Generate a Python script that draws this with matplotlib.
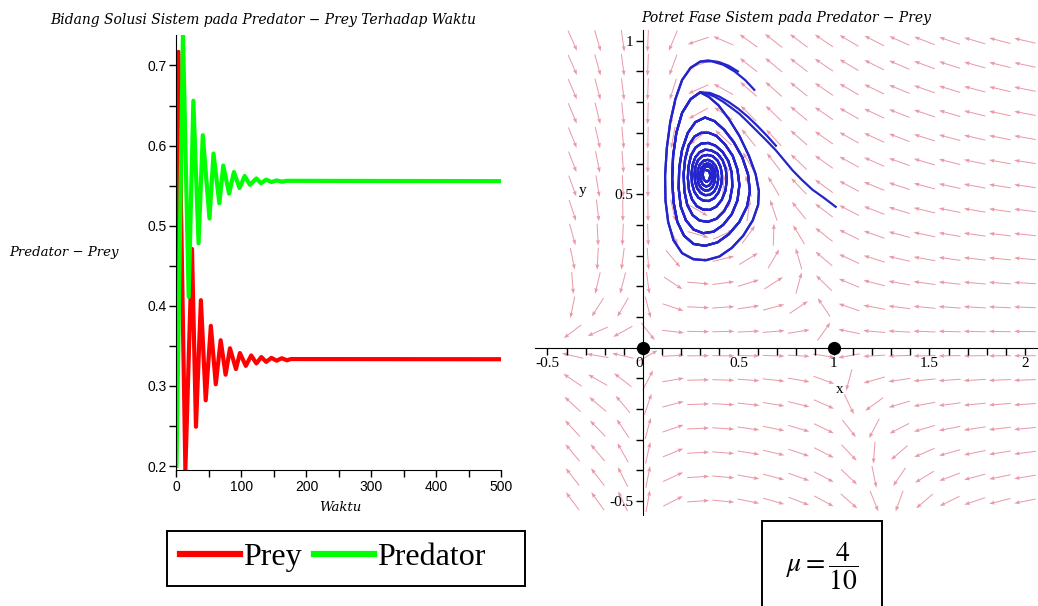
import numpy as np
import matplotlib
matplotlib.use("Agg")
import matplotlib.pyplot as plt
from matplotlib.patches import Rectangle
from matplotlib.ticker import MultipleLocator

# --- time series (left), extrema ---
prey_t = [0, 3.0, 13.7, 23.9, 30.0, 37.6, 45.0, 52.9, 60.5, 68.0, 75.6, 82.3, 91.5,
          97.6, 106.7, 115.0, 123.0, 130.6, 138.0, 146.0, 154.0, 162.0, 170.0, 176.0, 500]
prey_v = [0.40, 0.717, 0.195, 0.471, 0.249, 0.407, 0.282, 0.375, 0.302, 0.357, 0.314,
          0.347, 0.321, 0.341, 0.325, 0.338, 0.328, 0.336, 0.330, 0.335, 0.3315, 0.3345,
          0.332, 0.3335, 0.3333]
pred_t = [0, 10.0, 18.8, 26.0, 34.0, 40.5, 50.8, 57.0, 66.0, 72.0, 81.0, 88.4, 97.0,
          105.0, 113.0, 123.0, 130.0, 138.0, 146.0, 154.0, 162.0, 170.0, 500]
pred_v = [0.20, 0.74, 0.411, 0.656, 0.478, 0.613, 0.509, 0.590, 0.528, 0.575, 0.540,
          0.567, 0.547, 0.562, 0.551, 0.559, 0.553, 0.5575, 0.5545, 0.5565, 0.555, 0.556,
          0.5556]

# --- phase portrait (right) ---
mu = 0.4          # death rate of predator
half_sat = 0.5    # prey half saturation
eq_x = [0, 1]
eq_y = [0, 0]

start_a = [(0.583, 0.840), (0.535, 0.872), (0.48, 0.900), (0.42, 0.922), (0.36, 0.933)]
start_b = [(0.497, 0.900), (0.45, 0.918), (0.40, 0.930), (0.34, 0.936)]
start_c = [(1.009, 0.459), (0.95, 0.487), (0.887, 0.515), (0.83, 0.548), (0.783, 0.578),
           (0.74, 0.61), (0.696, 0.643), (0.645, 0.676), (0.592, 0.709), (0.545, 0.738),
           (0.505, 0.762), (0.46, 0.783), (0.418, 0.802), (0.375, 0.818), (0.335, 0.828)]
start_d = [(0.696, 0.658), (0.65, 0.69), (0.60, 0.722), (0.55, 0.752), (0.50, 0.778),
           (0.45, 0.80), (0.40, 0.818), (0.35, 0.83)]

loop1 = [(0.30, 0.932), (0.25, 0.912), (0.205, 0.872), (0.17, 0.81), (0.143, 0.735),
         (0.125, 0.65), (0.116, 0.56), (0.118, 0.48), (0.132, 0.41), (0.16, 0.35),
         (0.205, 0.308), (0.265, 0.288), (0.33, 0.285), (0.40, 0.297), (0.465, 0.325),
         (0.525, 0.365), (0.575, 0.415), (0.603, 0.465), (0.607, 0.51), (0.59, 0.565),
         (0.555, 0.625), (0.505, 0.69), (0.45, 0.745), (0.395, 0.79), (0.345, 0.817)]
loop2 = [(0.30, 0.832), (0.25, 0.81), (0.205, 0.765), (0.175, 0.70), (0.158, 0.625),
         (0.153, 0.55), (0.16, 0.475), (0.18, 0.41), (0.215, 0.365), (0.265, 0.338),
         (0.325, 0.332), (0.39, 0.343), (0.45, 0.37), (0.505, 0.41), (0.545, 0.46),
         (0.56, 0.51), (0.55, 0.565), (0.52, 0.62), (0.475, 0.67), (0.425, 0.71),
         (0.375, 0.738)]
loop3 = [(0.325, 0.75), (0.275, 0.735), (0.235, 0.70), (0.205, 0.645), (0.19, 0.585),
         (0.187, 0.52), (0.198, 0.46), (0.225, 0.415), (0.265, 0.385), (0.315, 0.373),
         (0.37, 0.378), (0.42, 0.40), (0.465, 0.435), (0.495, 0.48), (0.505, 0.53),
         (0.495, 0.58), (0.47, 0.625), (0.43, 0.662), (0.385, 0.69), (0.345, 0.70)]
loop4 = [(0.305, 0.70), (0.27, 0.688), (0.24, 0.66), (0.221, 0.615), (0.213, 0.565),
         (0.217, 0.51), (0.232, 0.465), (0.26, 0.432), (0.297, 0.414), (0.34, 0.41),
         (0.385, 0.42), (0.425, 0.445), (0.455, 0.48), (0.468, 0.525), (0.465, 0.57),
         (0.447, 0.608), (0.417, 0.638), (0.38, 0.658), (0.342, 0.667)]
loop5 = [(0.305, 0.665), (0.275, 0.652), (0.252, 0.627), (0.239, 0.592), (0.235, 0.553),
         (0.241, 0.514), (0.257, 0.483), (0.282, 0.461), (0.315, 0.45), (0.35, 0.449),
         (0.385, 0.46), (0.413, 0.482), (0.432, 0.512), (0.439, 0.547), (0.434, 0.582),
         (0.417, 0.611), (0.39, 0.632), (0.357, 0.643), (0.325, 0.645)]
loop6 = [(0.297, 0.637), (0.274, 0.62), (0.26, 0.595), (0.254, 0.565), (0.257, 0.535),
         (0.269, 0.508), (0.29, 0.489), (0.316, 0.479), (0.345, 0.478), (0.373, 0.487),
         (0.396, 0.506), (0.41, 0.532), (0.414, 0.56), (0.407, 0.588), (0.39, 0.61),
         (0.365, 0.624), (0.337, 0.628)]
loop7 = [(0.31, 0.624), (0.288, 0.611), (0.275, 0.59), (0.27, 0.565), (0.273, 0.54),
         (0.284, 0.519), (0.302, 0.504), (0.325, 0.497), (0.35, 0.498), (0.372, 0.508),
         (0.387, 0.525), (0.394, 0.548), (0.392, 0.572), (0.381, 0.592), (0.362, 0.606),
         (0.34, 0.612)]
loop8 = [(0.317, 0.609), (0.298, 0.597), (0.287, 0.578), (0.285, 0.556), (0.291, 0.535),
         (0.305, 0.52), (0.324, 0.512), (0.345, 0.513), (0.363, 0.522), (0.375, 0.539),
         (0.379, 0.56), (0.374, 0.58), (0.36, 0.594), (0.342, 0.6)]
loop9 = [(0.322, 0.598), (0.306, 0.585), (0.299, 0.566), (0.302, 0.546), (0.314, 0.531),
         (0.331, 0.525), (0.349, 0.529), (0.362, 0.543), (0.366, 0.562), (0.36, 0.58),
         (0.347, 0.59), (0.33, 0.591), (0.317, 0.58), (0.313, 0.563), (0.319, 0.547),
         (0.333, 0.54), (0.347, 0.546), (0.353, 0.562), (0.346, 0.576), (0.333, 0.578)]

x_tick_labels = ["-0.5", "0", "0.5", "1", "1.5", "2"]
y_tick_labels = ["-0.5", "0.5", "1"]

plt.rcParams["font.family"] = ["Liberation Sans", "DejaVu Sans"]
plt.rcParams["axes.unicode_minus"] = False
plt.rcParams["mathtext.fontset"] = "stix"

W, H = 1038, 606
fig = plt.figure(figsize=(W / 100, H / 100), dpi=100)

# ---------------- left: solution curves ----------------
ax1 = fig.add_axes([0.1700, 0.2244, 0.3131, 0.7178])
l_prey, = ax1.plot(prey_t, prey_v, color="#ff0000", lw=3)
l_pred, = ax1.plot(pred_t, pred_v, color="#00ff00", lw=3)
ax1.set_xlim(0, 500)
ax1.set_ylim(0.195, 0.738)
for s in ["top", "right"]:
    ax1.spines[s].set_visible(False)
ax1.xaxis.set_major_locator(MultipleLocator(100))
ax1.xaxis.set_minor_locator(MultipleLocator(50))
ax1.yaxis.set_major_locator(MultipleLocator(0.1))
ax1.yaxis.set_minor_locator(MultipleLocator(0.05))
ax1.tick_params(which="both", direction="out", length=5, width=1, labelsize=10, pad=2)
ax1.set_xlabel("Waktu", family="DejaVu Serif", style="italic", fontsize=9.5)
ax1.xaxis.set_label_coords(0.503, -0.072)
ax1.set_ylabel("Predator \u2212 Prey", family="DejaVu Serif", style="italic", fontsize=9.5,
               rotation=0, ha="center", va="center")
ax1.yaxis.set_label_coords(-0.346, 0.499)

fig.text(263 / W, 1 - 20 / H, "Bidang Solusi Sistem pada Predator \u2212 Prey Terhadap Waktu",
         family="DejaVu Serif", style="italic", fontsize=10, ha="center", va="center")

# ---------------- right: phase portrait ----------------
ax2 = fig.add_axes([0.5154, 0.1502, 0.4846, 0.8003])
x0, x1 = -0.565, 2.068
y0, y1 = -0.545, 1.035
ax2.set_xlim(x0, x1)
ax2.set_ylim(y0, y1)

# direction field of the system
gx = np.linspace(-0.5, 2.0, 20)
gy = np.linspace(-0.5, 1.0, 20)
GX, GY = np.meshgrid(gx, gy)
with np.errstate(divide="ignore", invalid="ignore"):
    fx = GX * (1 - GX) - GX * GY / (GX + half_sat)
    fy = GY * (GX / (GX + half_sat) - mu)
sx = 0.4846 * W / (x1 - x0)
sy = 0.8003 * H / (y1 - y0)
U = fx * sx
V = fy * sy
N = np.hypot(U, V)
ok = np.isfinite(N) & (N > 0)
ax2.quiver(GX[ok], GY[ok], U[ok] / N[ok], V[ok] / N[ok], pivot="middle", angles="uv",
           scale_units="inches", scale=1 / 0.22, units="dots", width=1.0,
           headwidth=4, headlength=5.5, headaxislength=5,
           color="#e3788a", alpha=0.75, zorder=1)

spiral = loop1 + loop2 + loop3 + loop4 + loop5 + loop6 + loop7 + loop8 + loop9
inner = loop2 + loop3 + loop4 + loop5 + loop6 + loop7 + loop8 + loop9
for path in [start_a + spiral, start_b + spiral, start_c + inner, start_d + inner]:
    px, py = zip(*path)
    ax2.plot(px, py, color="#2424cc", lw=1.6, zorder=3, solid_joinstyle="round")

ax2.plot(eq_x, eq_y, "o", color="black", ms=8.5, zorder=5, clip_on=False)

for s in ["top", "right"]:
    ax2.spines[s].set_visible(False)
ax2.spines["left"].set_position(("data", 0))
ax2.spines["bottom"].set_position(("data", 0))
ax2.set_xticks([-0.5, 0, 0.5, 1, 1.5, 2])
ax2.set_xticklabels(x_tick_labels, family="Liberation Serif", fontsize=11)
ax2.set_yticks([-0.5, 0.5, 1])
ax2.set_yticklabels(y_tick_labels, family="Liberation Serif", fontsize=11)
ax2.xaxis.set_minor_locator(MultipleLocator(0.1))
ax2.yaxis.set_minor_locator(MultipleLocator(0.1))
ax2.tick_params(which="both", direction="out", length=5, width=1, pad=2)
ax2.get_xticklabels()[1].set_ha("right")
ax2.set_xlabel("x", family="Liberation Serif", fontsize=11)
ax2.xaxis.set_label_coords(0.606, 0.272)
ax2.set_ylabel("y", family="Liberation Serif", fontsize=11, rotation=0,
               ha="center", va="center")
ax2.yaxis.set_label_coords(0.095, 0.670)

fig.text(786 / W, 1 - 18 / H, "Potret Fase Sistem pada Predator \u2212 Prey",
         family="DejaVu Serif", style="italic", fontsize=10, ha="center", va="center")

# ---------------- legend box and parameter box ----------------
leg = fig.legend([l_prey, l_pred], ["Prey", "Predator"], loc="center left",
                 bbox_to_anchor=(180 / W, 1 - 557 / H), ncol=2, frameon=False,
                 prop={"family": "Liberation Serif", "size": 23},
                 handlelength=1.88, handletextpad=0.1, columnspacing=0.38,
                 borderpad=0, borderaxespad=0)
for ln in leg.get_lines():
    ln.set_linewidth(4.5)
fig.patches.append(Rectangle((167 / W, 1 - 586 / H), 358 / W, 55 / H,
                             transform=fig.transFigure, fill=False, ec="black", lw=1.4))

fig.patches.append(Rectangle((762 / W, 1 - 612 / H), 120 / W, 91 / H,
                             transform=fig.transFigure, fill=False, ec="black", lw=1.4))
fig.text(822 / W, 1 - 566 / H, r"$\mu = \dfrac{4}{10}$", fontsize=20,
         ha="center", va="center")

fig.savefig("out.png", dpi=100)
